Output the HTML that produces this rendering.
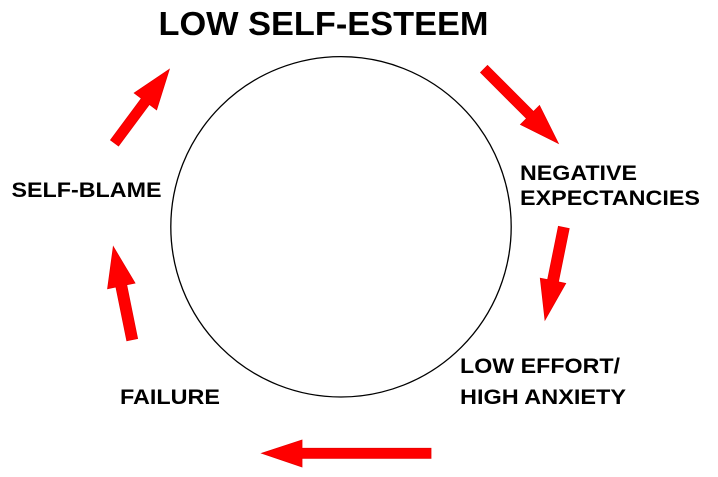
<!DOCTYPE html>
<html>
<head>
<meta charset="utf-8">
<style>
  html, body { margin: 0; padding: 0; background: #ffffff; }
  body { width: 718px; height: 477px; overflow: hidden; }
  svg { display: block; }
  text { font-family: "Liberation Sans", Arial, sans-serif; font-weight: bold; fill: #000; }
</style>
</head>
<body>
<svg width="718" height="477" viewBox="0 0 718 477" xmlns="http://www.w3.org/2000/svg">
  <rect x="0" y="0" width="718" height="477" fill="#ffffff"/>

  <!-- circle -->
  <circle cx="341" cy="226.8" r="170.2" fill="none" stroke="#000" stroke-width="1.3"/>

  <!-- title -->
  <text x="158.5" y="35" font-size="33" textLength="330" lengthAdjust="spacingAndGlyphs">LOW SELF-ESTEEM</text>

  <!-- labels -->
  <text x="11.5" y="197" font-size="21.5" textLength="150" lengthAdjust="spacingAndGlyphs">SELF-BLAME</text>
  <text x="520" y="180" font-size="21.5" textLength="117" lengthAdjust="spacingAndGlyphs">NEGATIVE</text>
  <text x="520" y="205" font-size="21.5" textLength="180" lengthAdjust="spacingAndGlyphs">EXPECTANCIES</text>
  <text x="460" y="373" font-size="21.5" textLength="160" lengthAdjust="spacingAndGlyphs">LOW EFFORT/</text>
  <text x="460" y="404" font-size="21.5" textLength="166" lengthAdjust="spacingAndGlyphs">HIGH ANXIETY</text>
  <text x="120" y="404" font-size="21.5" textLength="100" lengthAdjust="spacingAndGlyphs">FAILURE</text>

  <!-- arrows -->
  <g fill="#ff0000" stroke="#e80000" stroke-width="0.8" stroke-linejoin="miter">
    <polygon points="480.5,72.5 526.5,118.5 520.5,124.5 558.3,143.3 539.5,105.5 533.5,111.5 487.5,65.5"/>
    <polygon points="118.5,146 149.4,104.4 156.6,109.8 169.3,69.3 134.2,93.0 141.4,98.4 110.5,140"/>
    <polygon points="431,448.3 302,448.3 302,440 261.7,453.3 302,467 302,458.3 431,458.3"/>
    <polygon points="569.2,228.6 558.4,281.9 565.7,283.4 545,320 540.3,278.2 547.6,279.7 558.4,226.4"/>
    <polygon points="137.6,338.6 126.7,284.8 135,283.1 113.3,246.7 107.6,288.7 115.9,287 126.8,340.8"/>
  </g>
</svg>
</body>
</html>
